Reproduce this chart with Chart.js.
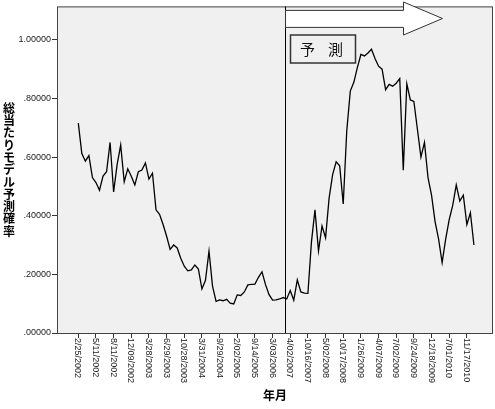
<!DOCTYPE html>
<html>
<head>
<meta charset="utf-8">
<script src="https://cdn.jsdelivr.net/npm/chart.js@4/dist/chart.umd.min.js"></script>
<style>
  html, body { margin: 0; padding: 0; background: #ffffff; }
  #chart { display: block; }
</style>
</head>
<body>
<canvas id="chart" width="495" height="409"></canvas>
<script>
// Tick labels on the category axis (one every labelStep points)
var dateLabels = [
    '2/25/2002', '5/11/2002', '8/11/2002', '12/09/2002', '3/28/2003', '6/29/2003',
    '10/28/2003', '3/31/2004', '9/29/2004', '2/02/2005', '9/14/2005', '3/03/2006',
    '4/02/2007', '10/16/2007', '5/02/2008', '10/17/2008', '1/26/2009', '4/07/2009',
    '7/02/2009', '9/24/2009', '12/18/2009', '7/01/2010', '11/17/2010'
];
var labelStep = 5;

// 総当たりモデル予測確率
var probValues = [
    .716, .612, .586, .605, .530, .513, .487, .535, .550, .650,
    .481, .575, .641, .516, .560, .535, .505, .550, .556, .580,
    .525, .545, .420, .405, .370, .330, .285, .300, .290, .255,
    .228, .212, .215, .232, .218, .150, .180, .279, .160, .108,
    .113, .110, .115, .102, .099, .130, .128, .140, .164, .166,
    .167, .190, .209, .165, .131, .112, .113, .116, .121, .116,
    .145, .112, .181, .140, .136, .135, .310, .420, .280, .365,
    .325, .460, .540, .584, .570, .440, .690, .825, .855, .905,
    .950, .945, .955, .968, .936, .910, .900, .830, .848, .842,
    .852, .868, .555, .850, .795, .790, .695, .600, .650, .530,
    .470, .380, .320, .240, .320, .387, .435, .505, .450, .470,
    .370, .410, .300
];

var yTicks = [0, .2, .4, .6, .8, 1];
var forecastStart = 58.4;   // position of the 予測 divider, in data points
var yTitle = '総当たりモデル予測確率';
var xTitle = '年月';
var forecastText = ['予', '測'];

var points = probValues.map(function (v, i) { return { x: i, y: v }; });

var decorPlugin = {
    id: 'spssDecor',
    beforeDraw: function (chart) {
        var a = chart.chartArea, ctx = chart.ctx;
        ctx.save();
        ctx.fillStyle = '#f0f0f0';
        ctx.fillRect(a.left, a.top, a.right - a.left, a.bottom - a.top);
        ctx.restore();
    },
    afterDraw: function (chart) {
        var a = chart.chartArea, ctx = chart.ctx;
        var xs = chart.scales.x;
        ctx.save();

        // frame
        ctx.strokeStyle = '#444444';
        ctx.lineWidth = 1;
        ctx.strokeRect(a.left + 0.5, a.top + 0.5, a.right - a.left - 1, a.bottom - a.top);

        // x tick labels, rotated clockwise
        ctx.fillStyle = '#222222';
        ctx.font = '9px "Liberation Sans", Arial, sans-serif';
        ctx.textAlign = 'left';
        ctx.textBaseline = 'middle';
        for (var i = 0; i < dateLabels.length; i++) {
            var px = xs.getPixelForValue(i * labelStep);
            ctx.save();
            ctx.translate(px - 0.5, a.bottom + 5);
            ctx.rotate(Math.PI / 2);
            ctx.fillText(dateLabels[i], 0, 0);
            ctx.restore();
        }

        // x title
        ctx.font = 'bold 12px "Noto Sans CJK JP", sans-serif';
        ctx.textAlign = 'center';
        ctx.fillStyle = '#000000';
        ctx.fillText(xTitle, (a.left + a.right) / 2, 395);

        // y title, stacked vertically
        var chars = Array.from(yTitle);
        var step = 12.3;
        var y0 = (a.top + a.bottom) / 2 - step * (chars.length - 1) / 2;
        for (var c = 0; c < chars.length; c++) {
            ctx.fillText(chars[c], 9, y0 + c * step);
        }

        // forecast divider
        var fx = Math.round(xs.getPixelForValue(forecastStart)) + 0.5;
        ctx.strokeStyle = '#000000';
        ctx.lineWidth = 1;
        ctx.beginPath();
        ctx.moveTo(fx, a.top);
        ctx.lineTo(fx, a.bottom);
        ctx.stroke();

        // arrow
        ctx.fillStyle = '#ffffff';
        ctx.strokeStyle = '#333333';
        ctx.lineWidth = 1;
        ctx.beginPath();
        ctx.moveTo(fx, a.top + 4);
        ctx.lineTo(fx + 118, a.top + 4);
        ctx.lineTo(fx + 118, 2);
        ctx.lineTo(fx + 157, 18.5);
        ctx.lineTo(fx + 118, 35);
        ctx.lineTo(fx + 118, a.top + 21);
        ctx.lineTo(fx, a.top + 21);
        ctx.closePath();
        ctx.fill();
        ctx.stroke();

        // 予測 box
        ctx.fillStyle = '#f0f0f0';
        ctx.strokeStyle = '#333333';
        ctx.lineWidth = 1.5;
        ctx.fillRect(fx + 5, 35, 65, 28);
        ctx.strokeRect(fx + 5, 35, 65, 28);
        ctx.fillStyle = '#111111';
        ctx.font = '15px "Noto Sans CJK JP", sans-serif';
        ctx.textAlign = 'center';
        ctx.textBaseline = 'middle';
        ctx.fillText(forecastText[0], fx + 22, 49.5);
        ctx.fillText(forecastText[1], fx + 50, 49.5);

        ctx.restore();
    }
};

new Chart(document.getElementById('chart').getContext('2d'), {
    type: 'line',
    data: {
        datasets: [{
            data: points,
            borderColor: '#000000',
            borderWidth: 1.3,
            pointRadius: 0,
            tension: 0,
            fill: false
        }]
    },
    plugins: [decorPlugin],
    options: {
        responsive: false,
        animation: false,
        layout: { padding: { top: 6, right: 2, left: 0, bottom: 0 } },
        plugins: {
            legend: { display: false },
            tooltip: { enabled: false }
        },
        scales: {
            x: {
                type: 'linear',
                min: -6.03,
                max: 117.4,
                afterBuildTicks: function (s) {
                    s.ticks = dateLabels.map(function (l, i) { return { value: i * labelStep }; });
                },
                afterFit: function (s) { s.height = 76; },
                ticks: { display: false },
                grid: { drawOnChartArea: false, drawTicks: true, tickLength: 5, color: '#333333' },
                border: { display: false }
            },
            y: {
                min: 0,
                max: 1.114,
                afterBuildTicks: function (s) {
                    s.ticks = yTicks.map(function (v) { return { value: v }; });
                },
                afterFit: function (s) { s.width = 57; },
                ticks: {
                    padding: 1,
                    color: '#222222',
                    font: { size: 9, family: '"Liberation Sans", Arial, sans-serif' },
                    callback: function (v) { return v.toFixed(5).replace(/^0/, ''); }
                },
                grid: { drawOnChartArea: false, drawTicks: true, tickLength: 5, color: '#333333' },
                border: { display: false }
            }
        }
    }
});
</script>
</body>
</html>
